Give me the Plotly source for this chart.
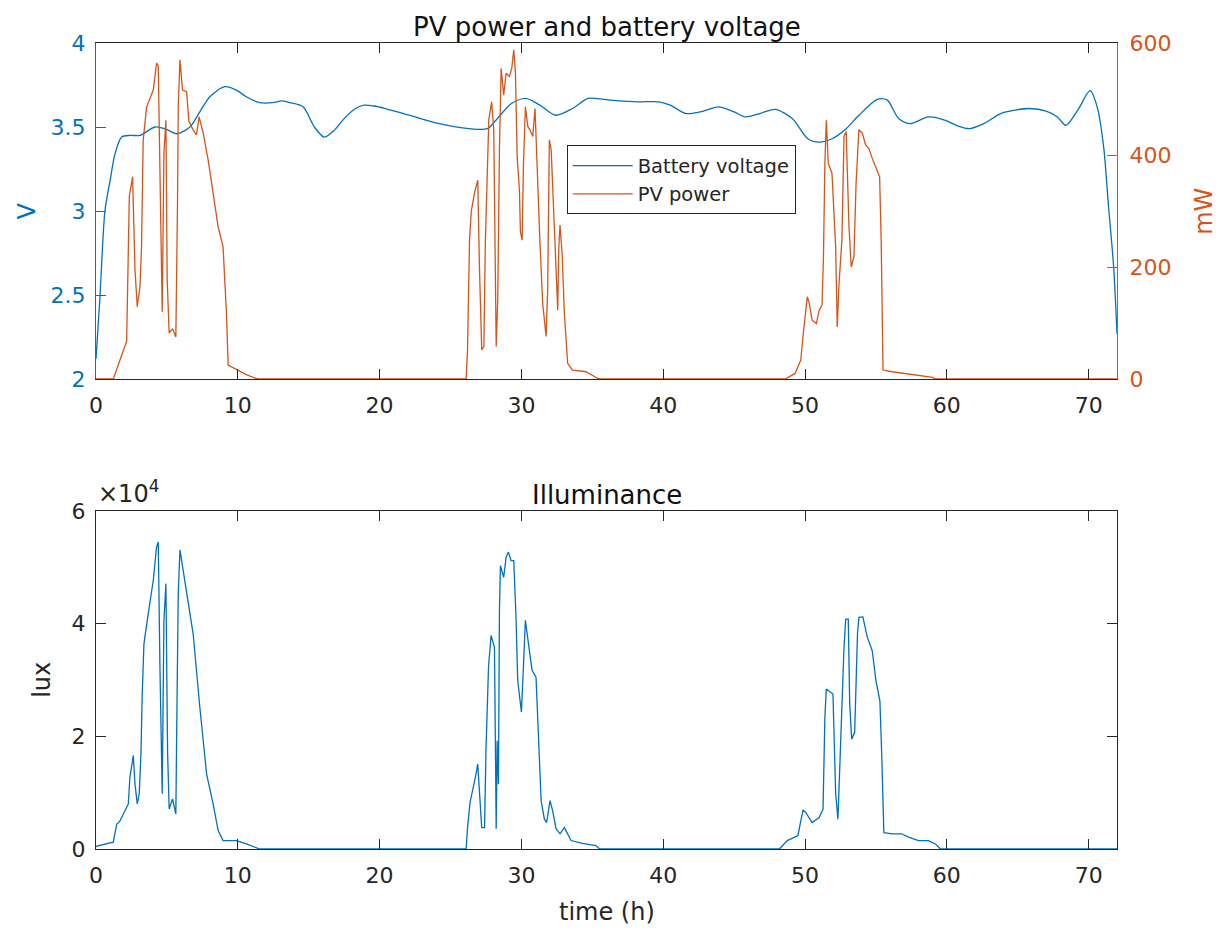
import plotly.graph_objects as go

# ---------------- data ----------------
# Battery voltage (V) vs time (h)
v_time = [0.0, 0.28, 0.63, 0.99, 1.34, 1.81, 2.39, 3.1, 4.15, 4.86, 5.7, 6.62, 7.32, 8.03,
          9.08, 9.9, 10.6, 11.55, 12.46, 13.08, 13.66, 14.6, 15.4, 16.1, 16.8, 17.5, 18.3,
          18.9, 19.6, 20.4, 22.1, 24.2, 26.3, 27.6, 28.2, 29.3, 30.3, 31.3, 32.4, 33.6,
          34.7, 35.8, 36.9, 38.3, 39.7, 40.5, 41.6, 42.6, 43.9, 45.0, 45.8, 46.8, 47.9,
          49.1, 50.2, 51.0, 51.9, 52.9, 53.8, 55.1, 55.8, 56.6, 57.4, 58.7, 59.9, 60.8,
          61.6, 62.6, 63.8, 64.8, 65.8, 67.0, 67.8, 68.4, 69.3, 70.1, 70.6, 71.06, 71.4,
          71.76, 72.0]
v_values = [2.12, 2.49, 3.0, 3.18, 3.34, 3.44, 3.45, 3.45, 3.50, 3.49, 3.46, 3.50, 3.59, 3.68,
            3.74, 3.72, 3.68, 3.645, 3.645, 3.655, 3.645, 3.62, 3.50, 3.44, 3.48, 3.55, 3.61,
            3.63, 3.625, 3.61, 3.57, 3.52, 3.49, 3.49, 3.54, 3.64, 3.67, 3.63, 3.57, 3.61,
            3.67, 3.665, 3.655, 3.65, 3.65, 3.63, 3.58, 3.59, 3.62, 3.59, 3.56, 3.58, 3.605,
            3.55, 3.43, 3.41, 3.43, 3.49, 3.57, 3.665, 3.66, 3.55, 3.52, 3.56, 3.54, 3.505,
            3.49, 3.52, 3.58, 3.60, 3.61, 3.595, 3.56, 3.51, 3.61, 3.716, 3.62, 3.38, 3.03,
            2.67, 2.27]

# PV power (mW) vs time (h)
p_time = [0.0, 1.22, 1.69, 2.16, 2.35, 2.58, 2.75, 2.91, 3.1, 3.21, 3.33, 3.57, 4.04, 4.27,
          4.39, 4.51, 4.58, 4.67, 4.79, 4.93, 5.02, 5.16, 5.4, 5.63, 5.75, 5.8, 5.92, 6.1,
          6.39, 6.55, 6.85, 7.09, 7.27, 7.56, 7.91, 8.26, 8.61, 8.96, 9.2, 9.32, 10.0, 10.6,
          11.3, 11.6,
          26.1, 26.2, 26.34, 26.46, 26.69, 26.92, 27.04, 27.2, 27.35, 27.46, 27.7, 27.9,
          28.05, 28.22, 28.33, 28.45, 28.57, 28.75, 28.92, 29.15, 29.32, 29.46, 29.58, 29.7,
          29.86, 29.93, 30.05, 30.14, 30.28, 30.45, 30.6, 30.8, 30.96, 31.15, 31.3, 31.5,
          31.74, 31.85, 31.97, 32.1, 32.32, 32.44, 32.56, 32.63, 32.72, 32.87, 33.03, 33.26,
          33.6, 34.55, 35.4, 35.6,
          48.6, 49.3, 49.7, 49.9, 50.16, 50.3, 50.5, 50.8, 51.0, 51.2, 51.3, 51.4, 51.5,
          51.64, 51.9, 52.16, 52.27, 52.4, 52.6, 52.75, 52.9, 53.1, 53.26, 53.45, 53.6, 53.8,
          54.04, 54.27, 54.5, 54.74, 55.0, 55.26, 55.37, 55.5, 56.15, 57.1, 58.0, 59.0, 59.2,
          72.0]
p_values = [0, 0, 34, 67, 326, 361, 195, 129, 165, 236, 427, 486, 516, 564,
            560, 350, 195, 120, 403, 462, 177, 82, 90, 75, 320, 486, 570, 516,
            513, 460, 445, 436, 468, 439, 391, 335, 272, 236, 117, 25, 16, 8,
            1, 0,
            0, 52, 248, 299, 332, 355, 200, 52, 58, 248, 463, 495,
            445, 58, 141, 409, 555, 507, 546, 540, 555, 588, 546, 397,
            337, 263, 248, 379, 486, 451, 445, 433, 483, 343, 248, 135,
            76, 159, 427, 409, 278, 177, 123, 230, 275, 224, 117, 28,
            16, 13, 1, 0,
            0, 10, 34, 87, 147, 135, 105, 99, 123, 132, 218, 385, 462,
            385, 367, 236, 93, 171, 248, 433, 442, 272, 200, 218, 350, 445,
            439, 418, 412, 394, 379, 361, 248, 16, 13, 10, 7, 3, 0,
            0]

# Illuminance (lux) vs time (h)
lux_time = [0.0, 0.05, 1.22, 1.46, 1.69, 2.28, 2.39, 2.63, 2.75, 2.91, 3.05, 3.17, 3.26, 3.38,
            3.68, 4.04, 4.27, 4.39, 4.51, 4.58, 4.67, 4.79, 4.93, 5.05, 5.16, 5.4, 5.63, 5.73,
            5.8, 5.92, 6.39, 6.85, 7.32, 7.8, 8.26, 8.61, 8.96, 9.9, 10.6, 11.55,
            26.1, 26.2, 26.38, 26.57, 26.8, 26.92, 27.04, 27.2, 27.4, 27.5, 27.68, 27.86, 28.1,
            28.22, 28.29, 28.38, 28.45, 28.52, 28.75, 28.92, 29.08, 29.27, 29.46, 29.62, 29.74,
            29.9, 30.0, 30.14, 30.28, 30.5, 30.75, 31.03, 31.15, 31.39, 31.62, 31.78, 32.02,
            32.2, 32.44, 32.72, 33.03, 33.5, 34.3, 35.26, 35.5,
            48.2, 48.75, 49.5, 49.7, 49.86, 50.05, 50.5, 51.0, 51.27, 51.4, 51.5, 51.97, 52.16,
            52.32, 52.5, 52.75, 52.87, 53.05, 53.15, 53.29, 53.5, 53.7, 53.8, 54.08, 54.39,
            54.74, 55.0, 55.28, 55.4, 55.56, 56.15, 56.8, 57.3, 58.0, 58.7, 59.2, 59.55,
            72.0]
lux_values = [400, 500, 1200, 4400, 5000, 8000, 12700, 16600, 11500, 8000, 9800, 16900, 27500, 36400,
              41700, 47700, 53600, 54500, 32300, 17500, 9800, 40600, 47100, 16900, 7100, 8900, 6200, 29900,
              45300, 53100, 45300, 38200, 25200, 13300, 8000, 3300, 1500, 1500, 900, 0,
              0, 3800, 8300, 10400, 13300, 15100, 10400, 3800, 3800, 17500, 32300, 37900, 35800,
              3600, 19200, 11500, 42300, 50300, 48200, 51800, 52700, 51200, 51200, 41100, 29900,
              26300, 24300, 32300, 40600, 36400, 31700, 30500, 22800, 8600, 5300, 4700, 8600,
              6800, 3600, 2700, 3800, 1500, 1000, 600, 0,
              0, 1500, 2400, 5000, 6900, 6500, 4700, 5600, 7100, 23400, 28400, 27500, 9800,
              5300, 18300, 35800, 40800, 40800, 25800, 19500, 20700, 38200, 41100, 41200, 37600,
              35200, 29900, 26300, 17500, 2900, 2700, 2700, 2100, 1500, 1500, 900, 0,
              0]

# tick labels
x_ticks = [0, 10, 20, 30, 40, 50, 60, 70]
v_ticks = [2, 2.5, 3, 3.5, 4]
p_ticks = [0, 200, 400, 600]
lux_ticks = [0, 20000, 40000, 60000]
lux_tick_text = ["0", "2", "4", "6"]

# ---------------- styling ----------------
BLUE = "#0072BD"
ORANGE = "#D95319"
GRAY = "#262626"
FONT = "DejaVu Sans"
TICK = 22

fig = go.Figure()

fig.add_trace(go.Scatter(x=v_time, y=v_values, mode="lines", name="Battery voltage",
                         line=dict(color=BLUE, width=1.3, shape="spline", smoothing=0.8),
                         xaxis="x", yaxis="y"))
fig.add_trace(go.Scatter(x=p_time, y=p_values, mode="lines", name="PV power",
                         line=dict(color=ORANGE, width=1.3),
                         xaxis="x", yaxis="y2"))
fig.add_trace(go.Scatter(x=lux_time, y=lux_values, mode="lines", name="Illuminance",
                         line=dict(color=BLUE, width=1.3), showlegend=False,
                         xaxis="x2", yaxis="y3"))

# page has an 8px body margin; figure is sized so the plot areas land where the reference's are
top_dom = [0.5831, 1.0]
bot_dom = [0.0, 0.4194]

common_x = dict(range=[0, 72], tickvals=x_ticks, ticks="inside", ticklen=10,
                showline=True, linecolor=GRAY, linewidth=1, tickcolor=GRAY,
                mirror="ticks", showgrid=False, zeroline=False, automargin=False,
                ticklabelstandoff=7,
                tickfont=dict(family=FONT, size=TICK, color=GRAY))

fig.update_layout(
    width=1220, height=926,
    margin=dict(l=88, r=111, t=35, b=85),
    paper_bgcolor="white", plot_bgcolor="white",
    font=dict(family=FONT, color=GRAY),
    xaxis=dict(domain=[0, 1], anchor="y", **common_x),
    yaxis=dict(domain=top_dom, range=[2, 4], tickvals=v_ticks, ticks="inside", ticklen=10,
               showline=True, linecolor=BLUE, tickcolor=BLUE, linewidth=1,
               showgrid=False, zeroline=False, automargin=False, ticklabelstandoff=5,
               tickfont=dict(family=FONT, size=TICK, color=BLUE)),
    yaxis2=dict(range=[0, 600], tickvals=p_ticks, overlaying="y", side="right", anchor="x",
                ticks="inside", ticklen=10, showline=True, linecolor=ORANGE, tickcolor=ORANGE,
                linewidth=1, showgrid=False, zeroline=False, automargin=False,
                ticklabelstandoff=7,
                tickfont=dict(family=FONT, size=TICK, color=ORANGE)),
    xaxis2=dict(domain=[0, 1], anchor="y3", **common_x),
    yaxis3=dict(domain=bot_dom, range=[0, 60000], tickvals=lux_ticks, ticktext=lux_tick_text,
                ticks="inside", ticklen=10, showline=True, linecolor=GRAY, tickcolor=GRAY,
                linewidth=1, mirror="ticks", showgrid=False, zeroline=False,
                automargin=False, ticklabelstandoff=5,
                tickfont=dict(family=FONT, size=TICK, color=GRAY)),
    legend=dict(x=0.461, y=0.873, xanchor="left", yanchor="top",
                bgcolor="white", bordercolor=GRAY, borderwidth=1,
                font=dict(family=FONT, size=19.5, color=GRAY),
                tracegroupgap=0, itemwidth=60),
    showlegend=True,
)

annotations = [
    dict(text="PV power and battery voltage", x=0.5, y=1.0, xref="paper", yref="paper",
         xanchor="center", yanchor="bottom", yshift=-1, showarrow=False,
         font=dict(family=FONT, size=26, color="#111111")),
    dict(text="Illuminance", x=0.5, y=bot_dom[1], xref="paper", yref="paper",
         xanchor="center", yanchor="bottom", yshift=-1, showarrow=False,
         font=dict(family=FONT, size=26, color="#111111")),
    dict(text="V", x=-0.068, y=(top_dom[0] + top_dom[1]) / 2, xref="paper", yref="paper",
         xanchor="center", yanchor="middle", textangle=-90, showarrow=False,
         font=dict(family=FONT, size=24, color=BLUE)),
    dict(text="mW", x=1.085, y=(top_dom[0] + top_dom[1]) / 2, xref="paper", yref="paper",
         xanchor="center", yanchor="middle", textangle=-90, showarrow=False,
         font=dict(family=FONT, size=24, color=ORANGE)),
    dict(text="lux", x=-0.053, y=(bot_dom[0] + bot_dom[1]) / 2, xref="paper", yref="paper",
         xanchor="center", yanchor="middle", textangle=-90, showarrow=False,
         font=dict(family=FONT, size=24, color=GRAY)),
    dict(text="time (h)", x=0.5, y=0, xref="paper", yref="paper",
         xanchor="center", yanchor="top", yshift=-47, showarrow=False,
         font=dict(family=FONT, size=24, color=GRAY)),
    dict(text="×10<sup>4</sup>", x=0.0, y=bot_dom[1], xref="paper", yref="paper",
         xanchor="left", yanchor="bottom", yshift=1, showarrow=False,
         font=dict(family=FONT, size=24, color=GRAY)),
]
fig.update_layout(annotations=annotations)

fig.write_html("out.html")
